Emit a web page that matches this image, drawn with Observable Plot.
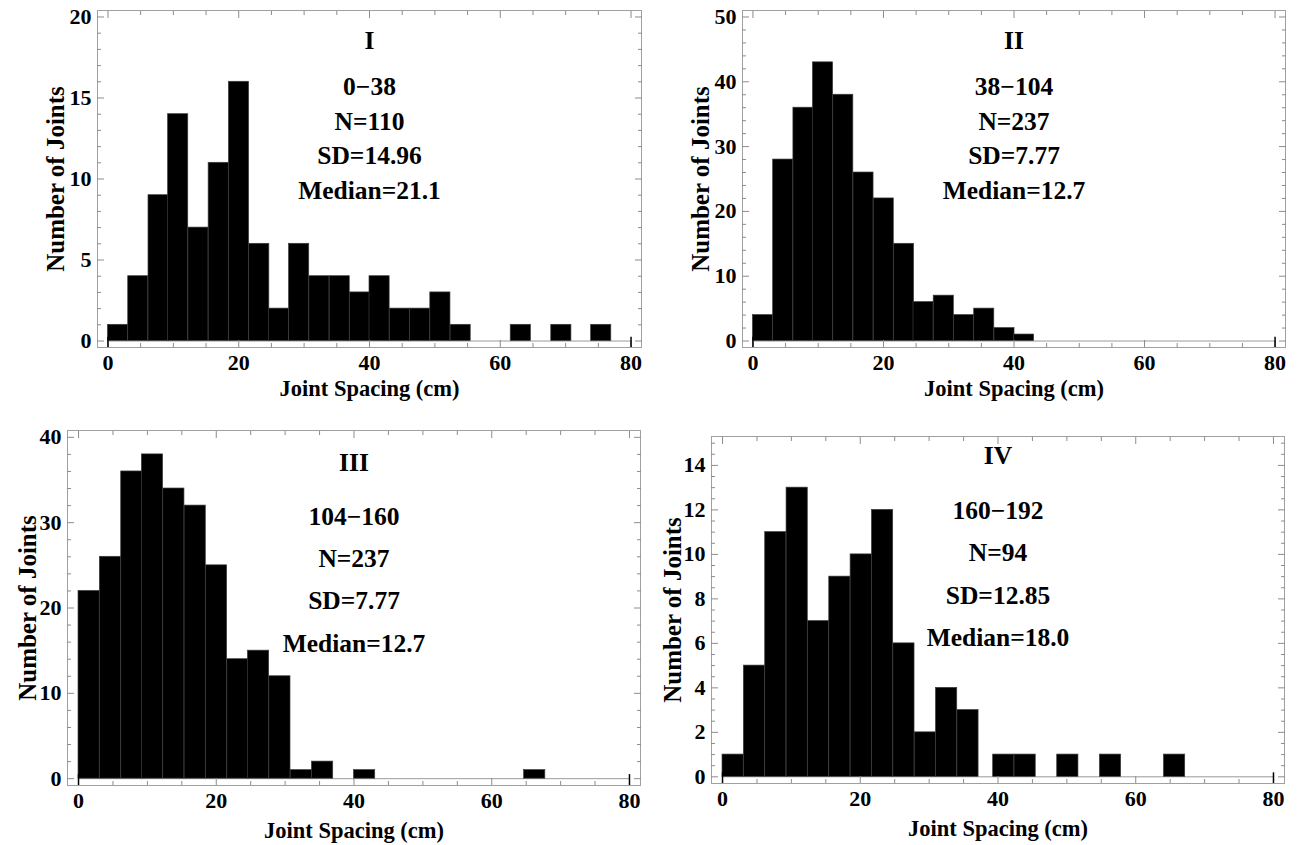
<!DOCTYPE html>
<html>
<head>
<meta charset="utf-8">
<script src="https://cdn.jsdelivr.net/npm/d3@7"></script>
<script src="https://cdn.jsdelivr.net/npm/@observablehq/plot@0.6"></script>
<style>
  html, body { margin: 0; padding: 0; background: #fff; }
  body { width: 1300px; height: 845px; position: relative; overflow: hidden; font-family: "Liberation Serif", "Times New Roman", serif; }
  .panel { position: absolute; }
</style>
</head>
<body>
<div id="p1" class="panel"></div>
<div id="p2" class="panel"></div>
<div id="p3" class="panel"></div>
<div id="p4" class="panel"></div>
<script>
// ---------------- data ----------------
const binWidth = 3.08;               // cm, histogram bin width
const xTicks = [0, 20, 40, 60, 80];  // x tick labels
const xLabel = "Joint Spacing (cm)";
const yLabel = "Number of Joints";

// Panel I
const binStartI = [0, 3.1, 6.2, 9.2, 12.3, 15.4, 18.5, 21.6, 24.6, 27.7, 30.8, 33.9, 37.0, 40.0, 43.1, 46.2, 49.3, 52.4, 61.6, 67.8, 73.9];
const countI    = [1, 4,   9,   14,  7,    11,   16,   6,    2,    6,    4,    4,    3,    4,    2,    2,    3,    1,    1,    1,    1];
const yTicksI   = [0, 5, 10, 15, 20];
const notesI    = ["I", "0\u221238", "N=110", "SD=14.96", "Median=21.1"];

// Panel II
const binStartII = [0, 3.1, 6.2, 9.2, 12.3, 15.4, 18.5, 21.6, 24.6, 27.7, 30.8, 33.9, 37.0, 40.0];
const countII    = [4, 28,  36,  43,  38,   26,   22,   15,   6,    7,    4,    5,    2,    1];
const yTicksII   = [0, 10, 20, 30, 40, 50];
const notesII    = ["II", "38\u2212104", "N=237", "SD=7.77", "Median=12.7"];

// Panel III
const binStartIII = [0, 3.1, 6.2, 9.2, 12.3, 15.4, 18.5, 21.6, 24.6, 27.7, 30.8, 33.9, 40.0, 64.7];
const countIII    = [22, 26, 36,  38,  34,   32,   25,   14,   15,   12,   1,    2,    1,    1];
const yTicksIII   = [0, 10, 20, 30, 40];
const notesIII    = ["III", "104\u2212160", "N=237", "SD=7.77", "Median=12.7"];

// Panel IV
const binStartIV = [0, 3.1, 6.2, 9.3, 12.4, 15.5, 18.6, 21.7, 24.8, 27.9, 31.0, 34.1, 39.3, 42.4, 48.6, 54.8, 64.1];
const countIV    = [1, 5,   11,  13,  7,    9,    10,   12,   6,    2,    4,    3,    1,    1,    1,    1,    1];
const yTicksIV   = [0, 2, 4, 6, 8, 10, 12, 14];
const notesIV    = ["IV", "160\u2212192", "N=94", "SD=12.85", "Median=18.0"];

// ---------------- layout ----------------
const panels = [
  {id: "p1", L: 97,  R: 641,  T: 10,  B: 347, yTop: 20, yTicks: yTicksI,   yMinorStep: 1,   starts: binStartI,   counts: countI,   notes: notesI,   noteDy: [30, 76, 111, 145, 180], ylabDx: -42, xlabDy: 41},
  {id: "p2", L: 742, R: 1285, T: 10,  B: 347, yTop: 50, yTicks: yTicksII,  yMinorStep: 2,   starts: binStartII,  counts: countII,  notes: notesII,  noteDy: [30, 76, 111, 145, 180], ylabDx: -42, xlabDy: 41},
  {id: "p3", L: 67,  R: 640,  T: 430, B: 785, yTop: 40, yTicks: yTicksIII, yMinorStep: 2,   starts: binStartIII, counts: countIII, notes: notesIII, noteDy: [32, 86, 128, 170, 213], ylabDx: -40, xlabDy: 45},
  {id: "p4", L: 711, R: 1284, T: 436, B: 783, yTop: 15, yTicks: yTicksIV,  yMinorStep: 0.5, starts: binStartIV,  counts: countIV,  notes: notesIV,  noteDy: [19, 74, 116, 159, 201], ylabDx: -39, xlabDy: 45}
];

const xMinor = d3.range(0, 80.01, 5).filter(v => v % 20 !== 0);
const tickGray = "#8c8c8c";

function draw(cfg) {
  const W = cfg.R - cfg.L, H = cfg.B - cfg.T;
  const mL = 110, mR = 8, mT = 8, mB = 70;
  const bins = cfg.starts.map((s, i) => ({x1: s, x2: s + binWidth, n: cfg.counts[i]}));
  const yPad = cfg.yTop * 0.02;
  const yMinor = d3.range(0, cfg.yTop + 1e-9, cfg.yMinorStep).filter(v => !cfg.yTicks.some(t => Math.abs(t - v) < 1e-9));
  const font = {fontFamily: "Liberation Serif", fontWeight: "bold"};

  const marks = [
    Plot.ruleY([0], {x1: 0, x2: 80, stroke: "#9a9a9a"}),
    Plot.rectY(bins, {x1: "x1", x2: "x2", y1: 0, y2: "n", fill: "black", stroke: "#3c3c3c", strokeWidth: 0.7}),
    Plot.frame({stroke: "#a0a0a0"}),
    // major & minor frame ticks (inward)
    Plot.axisX({anchor: "bottom", ticks: xTicks, tickSize: -7, tickPadding: 14, stroke: tickGray, fill: "black", fontSize: 22, ...font, tickFormat: d => String(d), label: null}),
    Plot.axisX({anchor: "bottom", ticks: xMinor, tickSize: -4, stroke: tickGray, tickFormat: () => "", label: null}),
    Plot.axisX({anchor: "top", ticks: xTicks, tickSize: -7, stroke: tickGray, tickFormat: () => "", label: null}),
    Plot.axisX({anchor: "top", ticks: xMinor, tickSize: -4, stroke: tickGray, tickFormat: () => "", label: null}),
    Plot.axisY({anchor: "left", ticks: cfg.yTicks, tickSize: -7, tickPadding: 13, stroke: tickGray, fill: "black", fontSize: 22, ...font, tickFormat: d => String(d), label: null}),
    Plot.axisY({anchor: "left", ticks: yMinor, tickSize: -4, stroke: tickGray, tickFormat: () => "", label: null}),
    Plot.axisY({anchor: "right", ticks: cfg.yTicks, tickSize: -7, stroke: tickGray, tickFormat: () => "", label: null}),
    Plot.axisY({anchor: "right", ticks: yMinor, tickSize: -4, stroke: tickGray, tickFormat: () => "", label: null}),
    // axis end marks at x = 0 and x = 80
    Plot.ruleX([0, 80], {y1: -yPad, y2: yPad * 0.6, stroke: "black", strokeWidth: 1.5}),
    // axis titles
    Plot.text([xLabel], {text: d => d, frameAnchor: "bottom", lineAnchor: "middle", textAnchor: "middle", dy: cfg.xlabDy, fontSize: 22.5, ...font, fill: "black"}),
    Plot.text([yLabel], {text: d => d, frameAnchor: "left", textAnchor: "middle", lineAnchor: "middle", rotate: -90, dx: cfg.ylabDx, fontSize: 25, ...font, fill: "black"}),
    // annotations
    ...cfg.notes.map((t, i) => Plot.text([t], {text: d => d, x: 40, frameAnchor: "top", lineAnchor: "middle", textAnchor: "middle", dy: cfg.noteDy[i], fontSize: 25.5, ...font, fill: "black"}))
  ];

  const chart = Plot.plot({
    width: W + mL + mR, height: H + mT + mB,
    marginLeft: mL, marginRight: mR, marginTop: mT, marginBottom: mB,
    x: {domain: [-1.6, 81.6]},
    y: {domain: [-yPad, cfg.yTop + yPad]},
    style: {background: "transparent", overflow: "visible", color: "black"},
    marks
  });
  const el = document.getElementById(cfg.id);
  el.style.left = (cfg.L - mL) + "px";
  el.style.top = (cfg.T - mT) + "px";
  el.appendChild(chart);
}

panels.forEach(draw);
</script>
</body>
</html>
